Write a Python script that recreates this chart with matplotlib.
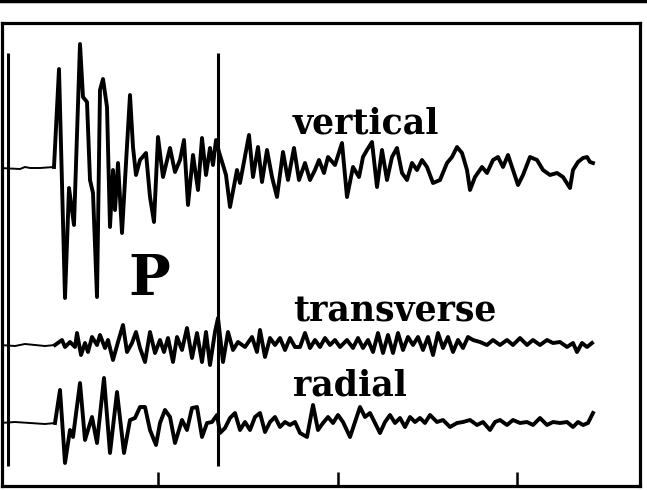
import matplotlib
matplotlib.use("Agg")
import matplotlib.pyplot as plt
import numpy as np
from matplotlib.lines import Line2D

vert_t = [0, 20, 25, 30, 40, 54, 59, 65, 69, 74, 80, 83, 87, 90, 93, 97, 100, 103, 107, 110,
          113, 115, 118, 122, 126, 130, 133, 136, 140, 146, 150, 154, 158, 163, 170, 175, 180,
          184, 188, 193, 198, 202, 206, 210, 213, 216, 219, 223, 226, 230, 237, 240, 249, 253,
          258, 262, 267, 272, 277, 283, 288, 294, 299, 305, 310, 315, 319, 324, 328, 335, 342,
          347, 353, 359, 363, 367, 372, 377, 382, 387, 392, 397, 402, 407, 412, 417, 422, 427,
          433, 440, 447, 452, 457, 462, 467, 470, 475, 482, 487, 493, 498, 503, 508, 513, 518,
          523, 530, 537, 543, 550, 557, 563, 570, 573, 578, 583, 587, 590, 593]
vert_a = [0, -1, 1, 0, 0, 1, 99, -130, -20, -57, 124, 71, 66, -12, -25, -129, 78, 89, 61, -59,
          -2, -42, 5, -65, 5, 73, 21, -7, 8, 15, -29, -54, 31, -9, 20, -4, 8,
          28, -37, 13, -22, 30, -7, 20, 3, 28, 16, 3, -7, -39, -2, -15, 33, -9,
          21, -14, 18, -9, -29, 16, -12, 20, -12, 5, -12, -2, 8, -5, 11, 3, 25,
          -29, 1, -9, 11, 18, 26, -19, 18, -12, 11, 20, -5, -12, 5, -2, 8, 1,
          -15, -12, 5, 11, 21, 15, -2, -22, -9, 1, -5, 8, 11, 1, 13, -2, -17,
          -7, 11, 8, -2, -7, -5, -9, -20, -2, 6, 10, 11, 6, 5]

trans_t = [0, 15, 25, 35, 45, 55, 62, 65, 70, 75, 77, 81, 85, 88, 92, 97, 100, 105, 108, 113,
           118, 123, 127, 132, 136, 140, 145, 150, 155, 160, 164, 168, 173, 177, 182, 187, 192,
           197, 202, 206, 210, 215, 218, 223, 228, 233, 238, 245, 252, 257, 260, 265, 270, 275,
           280, 285, 290, 295, 300, 305, 310, 315, 320, 325, 330, 335, 340, 347, 353, 358, 363,
           368, 373, 378, 383, 388, 393, 398, 403, 408, 413, 418, 423, 428, 433, 438, 443, 448,
           453, 458, 463, 468, 473, 480, 487, 493, 500, 507, 513, 520, 527, 533, 540, 547, 553,
           560, 567, 573, 577, 582, 587, 592]
trans_a = [0, -1, 1, 0, -1, 0, 5, -2, 3, -2, 12, -10, 2, -7, 8, 0, 10, -3, 5, -15,
           3, 20, -7, 2, 13, -3, -17, 13, -8, 5, -7, 7, -17, 8, -5, 17, -13,
           12, -17, 13, -20, 13, 27, -17, 13, -5, 3, -2, 8, -7, 15, -12, 7, 0,
           7, -5, 7, -2, -2, 12, -3, 5, -2, 7, 0, 5, -2, 5, -3, 7, -3,
           5, -7, 12, -8, 10, -8, 12, -5, 8, 0, 8, -5, 8, -10, 12, -3, 8,
           -7, 5, -3, 8, 5, 3, 0, 5, 0, 5, 0, 7, 0, 5, 0, 5, 2,
           3, -2, 2, -7, 2, -2, 2]

rad_t = [0, 15, 30, 45, 55, 60, 65, 70, 73, 80, 85, 88, 92, 97, 104, 110, 117, 124, 130, 135,
         140, 145, 150, 156, 160, 165, 170, 175, 182, 187, 192, 197, 202, 207, 212, 217, 220,
         225, 230, 235, 240, 245, 250, 255, 260, 265, 270, 275, 280, 285, 290, 295, 300, 307,
         313, 318, 323, 328, 333, 338, 343, 350, 355, 360, 365, 370, 375, 380, 385, 390, 395,
         400, 405, 410, 415, 420, 425, 430, 437, 443, 450, 457, 463, 470, 477, 483, 490, 495,
         500, 507, 513, 520, 527, 533, 540, 547, 553, 560, 567, 573, 578, 583, 588, 593]
rad_a = [0, 1, 0, -1, 0, 33, -40, -7, -14, 40, -17, -7, 6, -20, 45, -30, 31, -30, 3, 5,
         16, 16, -7, -22, 0, 13, 6, -20, 3, -7, 15, 16, -14, 0, 1, 8, -10,
         -5, 5, 10, -7, 1, -7, 6, 10, -9, 1, 6, -4, 1, -2, 1, -10, -14,
         18, -7, 0, 6, 0, 8, 1, -14, 1, 16, 6, 10, 0, -10, 1, 8, 0,
         5, -4, 6, 1, 5, 0, 8, 1, 3, -4, 0, 1, 3, -2, 1, -7, 1,
         3, -2, 3, 0, 1, -2, 5, -2, 1, 0, 1, -4, 1, -2, 0, 10]

labels = ["vertical", "transverse", "radial"]
bases = [168, 345, 423]
onset = 55

fig = plt.figure(figsize=(6.47, 4.90), dpi=100)
ax = fig.add_axes([2 / 647, 4 / 490, 638 / 647, 463 / 490])
ax.set_xlim(2, 640)
ax.set_ylim(486, 23)

# traces: thin pre-event part, heavy after onset
for t, a, base in zip([vert_t, trans_t, rad_t], [vert_a, trans_a, rad_a], bases):
    t = np.array(t)
    y = base - np.array(a)
    pre = t <= onset
    ax.plot(t[pre], y[pre], color="k", lw=1.4)
    k = np.argmax(~pre) - 1
    ax.plot(t[k:], y[k:], color="k", lw=2.8, solid_joinstyle="round")

# window markers
ax.vlines([8, 218], 53, 466, color="k", lw=2.2)

txt = dict(family="DejaVu Serif", fontweight="bold", color="k", va="baseline", ha="left")
ax.text(293, 133, labels[0], fontsize=25, **txt)
ax.text(293, 321, labels[1], fontsize=25, **txt)
ax.text(293, 395, labels[2], fontsize=25, **txt)
ax.text(128, 295, "P", fontsize=40, **txt)

ax.set_xticks([158, 338, 517])
ax.set_yticks([])
ax.tick_params(axis="x", direction="in", length=10, width=1.8, labelbottom=False)
for s in ax.spines.values():
    s.set_linewidth(2.3)

fig.add_artist(Line2D([0, 1], [0.997, 0.997], color="k", lw=2.5, transform=fig.transFigure))

fig.savefig("out.png", dpi=100)
